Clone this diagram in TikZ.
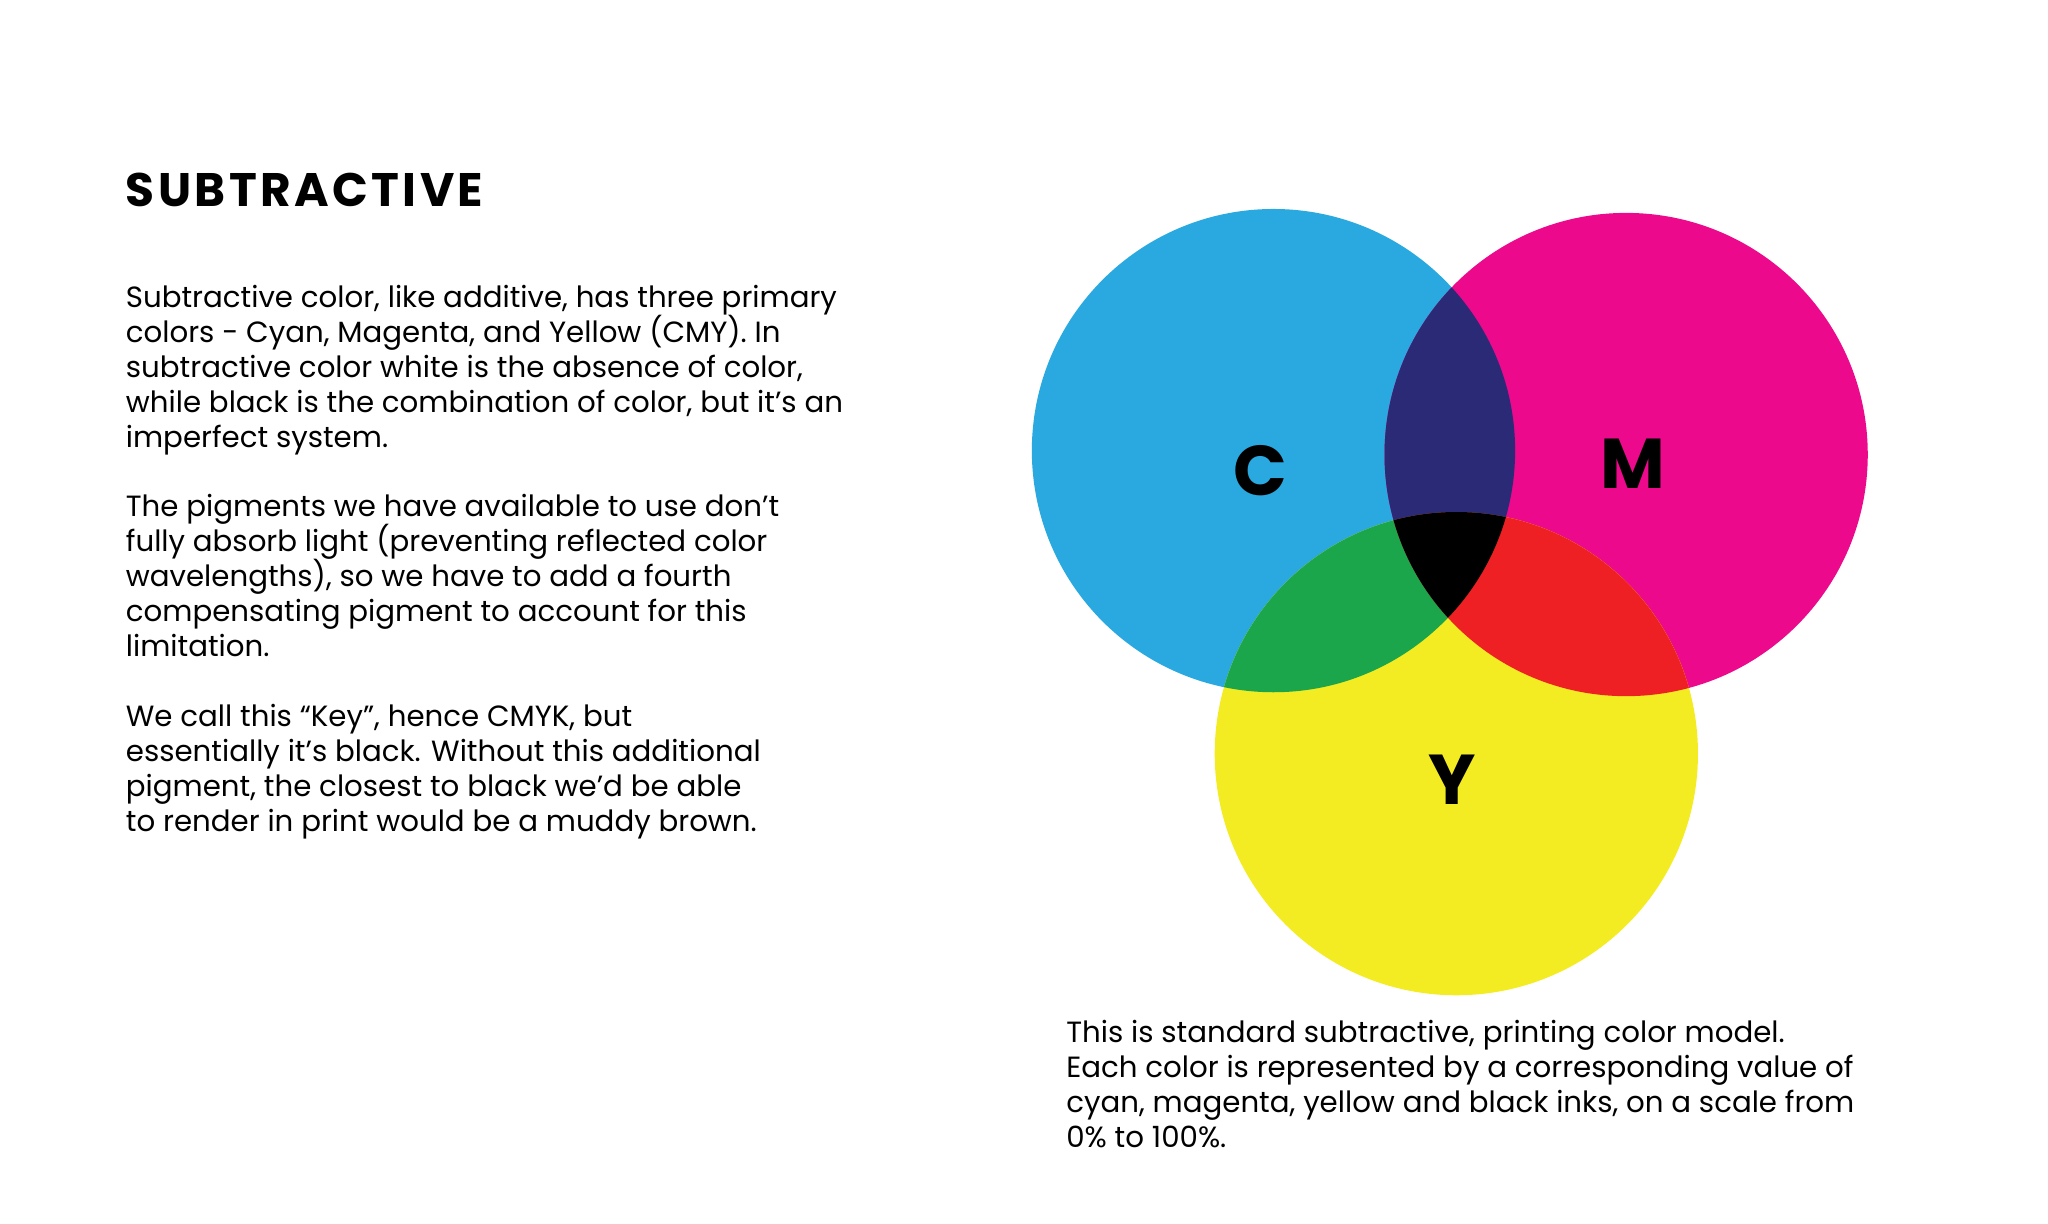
\documentclass[tikz,border=0pt]{standalone}
\usepackage{fontspec}
\setmainfont{Poppins}
\definecolor{cy}{HTML}{2AA9E0}
\definecolor{mg}{HTML}{EC098C}
\definecolor{yl}{HTML}{F4EC23}
\definecolor{gr}{HTML}{1BA64B}
\definecolor{rd}{HTML}{EE2023}
\definecolor{bl}{HTML}{2B2A77}
\newcommand\mytight{\lineskiplimit=-100pt\relax\lineskip=0pt\relax}
\begin{document}
\begin{tikzpicture}[x=0.5pt,y=-0.5pt,
 para/.style={anchor=north west,inner sep=0,align=left,font=\fontsize{11.2}{13.4}\selectfont\mytight},
 lett/.style={font=\fontsize{27}{27}\selectfont\bfseries}]
\useasboundingbox (0,0) rectangle (1568,937);
\def\C{(975,345) circle (185)}
\def\M{(1245,348) circle (185)}
\def\Y{(1115,577) circle (185)}
\fill[cy] \C; \fill[mg] \M; \fill[yl] \Y;
\begin{scope}\clip \C; \fill[bl] \M; \fill[gr] \Y; \end{scope}
\begin{scope}\clip \M; \fill[rd] \Y; \end{scope}
\begin{scope}\clip \C; \clip \M; \fill[black] \Y; \end{scope}
\node[lett] (c) at (965,360) {C};
\node[lett] (m) at (1250,355) {M};
\node[lett] (y) at (1112,597) {Y};
\node[anchor=base west,inner sep=0,font=\fontsize{18}{18}\selectfont\bfseries] (t) at (96,158) {S\kern1.3pt U\kern1.3pt B\kern1.3pt T\kern1.3pt R\kern1.3pt A\kern1.3pt C\kern1.3pt T\kern1.3pt I\kern1.3pt V\kern1.3pt E};
\node[para] (p1) at (96,218) {Subtractive color, like additive, has three primary\\colors - Cyan, Magenta, and Yellow (CMY). In\\subtractive color white is the absence of color,\\while black is the combination of color, but it’s an\\imperfect system.};
\node[para] (p2) at (96,378) {The pigments we have available to use don’t\\fully absorb light (preventing reflected color\\wavelengths), so we have to add a fourth\\compensating pigment to account for this\\limitation.};
\node[para] (p3) at (96,539) {We call this “Key”, hence CMYK, but\\essentially it’s black. Without this additional\\pigment, the closest to black we’d be able\\to render in print would be a muddy brown.};
\node[para] (p4) at (816,781) {This is standard subtractive, printing color model.\\Each color is represented by a corresponding value of\\cyan, magenta, yellow and black inks, on a scale from\\0\% to 100\%.};
\end{tikzpicture}
\end{document}
